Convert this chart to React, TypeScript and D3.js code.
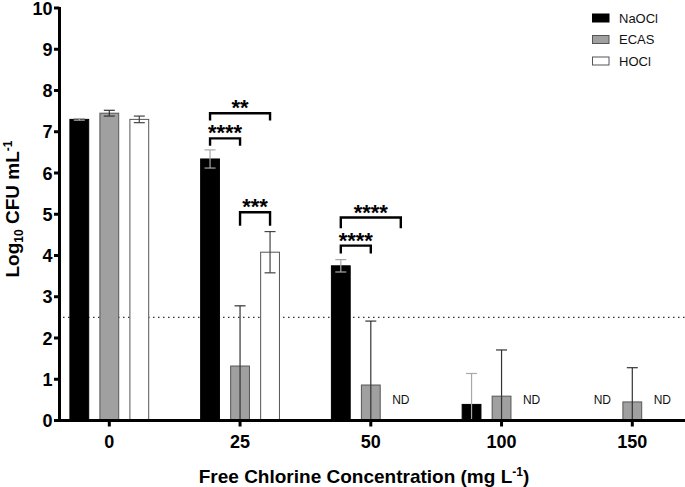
import React from "react";
import * as d3 from "d3";

const categories = ["0", "25", "50", "100", "150"];
const series = ["NaOCl", "ECAS", "HOCl"];
// null = not detected (ND)
const naoclMeans: (number | null)[] = [7.3, 6.34, 3.75, 0.39, null];
const naoclErrors: (number | null)[] = [0.02, 0.22, 0.15, 0.75, null];
const ecasMeans: (number | null)[] = [7.45, 1.32, 0.86, 0.59, 0.45];
const ecasErrors: (number | null)[] = [0.07, 1.46, 1.55, 1.12, 0.83];
const hoclMeans: (number | null)[] = [7.3, 4.08, null, null, null];
const hoclErrors: (number | null)[] = [0.08, 0.5, null, null, null];
const yTicks = [0, 1, 2, 3, 4, 5, 6, 7, 8, 9, 10];
const detectionLimit = 2.5;

// significance brackets: category, from series, to series, bracket level, leg end level, label
const brackets = [
  { cat: "25", from: "NaOCl", to: "ECAS", top: 6.84, bottom: 6.66, label: "****" },
  { cat: "25", from: "NaOCl", to: "HOCl", top: 7.45, bottom: 7.27, label: "**" },
  { cat: "25", from: "ECAS", to: "HOCl", top: 5.05, bottom: 4.72, label: "***" },
  { cat: "50", from: "NaOCl", to: "ECAS", top: 4.24, bottom: 4.05, label: "****" },
  { cat: "50", from: "NaOCl", to: "HOCl", top: 4.92, bottom: 4.66, label: "****" },
];

const W = 685;
const H = 487;
const FONT = "'Liberation Sans', Arial, Helvetica, sans-serif";

const styles: Record<string, { fill: string; stroke: string; err: string }> = {
  NaOCl: { fill: "#000000", stroke: "#000000", err: "#a8a8a8" },
  ECAS: { fill: "#a0a0a0", stroke: "#555555", err: "#333333" },
  HOCl: { fill: "#ffffff", stroke: "#555555", err: "#444444" },
};

export default function App() {
  const y = d3.scaleLinear().domain([0, 10]).range([420.5, 8]);
  const x = d3.scalePoint<string>().domain(categories).range([109.3, 632.3]);
  const sub = d3
    .scaleBand<string>()
    .domain(series)
    .range([-45, 45])
    .paddingInner(0.34)
    .paddingOuter(0.17);
  const bw = sub.bandwidth();
  const means: Record<string, (number | null)[]> = {
    NaOCl: naoclMeans,
    ECAS: ecasMeans,
    HOCl: hoclMeans,
  };
  const errs: Record<string, (number | null)[]> = {
    NaOCl: naoclErrors,
    ECAS: ecasErrors,
    HOCl: hoclErrors,
  };
  const cx = (cat: string, s: string) => (x(cat) as number) + (sub(s) as number) + bw / 2;

  const axisX = 59.5;
  const y0 = y(0);

  return (
    <svg
      width={W}
      height={H}
      style={{ position: "absolute", left: 0, top: 0, background: "#fff" }}
      fontFamily={FONT}
    >
      {/* detection limit */}
      <line
        x1={63}
        x2={W}
        y1={y(detectionLimit)}
        y2={y(detectionLimit)}
        stroke="#333"
        strokeWidth={1.3}
        strokeDasharray="1.5,3.5"
      />
      {/* bars */}
      {series.map((s) =>
        categories.map((c, i) => {
          const v = means[s][i];
          if (v === null) return null;
          const st = styles[s];
          const bx = (x(c) as number) + (sub(s) as number);
          return (
            <rect
              key={s + c}
              x={bx + 0.5}
              y={y(v)}
              width={bw - 1}
              height={y0 - y(v)}
              fill={st.fill}
              stroke={st.stroke}
              strokeWidth={1}
            />
          );
        })
      )}
      {/* error bars */}
      {series.map((s) =>
        categories.map((c, i) => {
          const v = means[s][i];
          const e = errs[s][i];
          if (v === null || e === null) return null;
          const st = styles[s];
          const px = cx(c, s);
          const hi = y(v + e);
          const lo = y(Math.max(0, v - e));
          return (
            <g key={"e" + s + c} stroke={st.err} strokeWidth={1.2}>
              <line x1={px} x2={px} y1={hi} y2={lo} />
              <line x1={px - 5.5} x2={px + 5.5} y1={hi} y2={hi} />
              <line x1={px - 5.5} x2={px + 5.5} y1={lo} y2={lo} />
            </g>
          );
        })
      )}
      {/* ND labels */}
      {series.map((s) =>
        categories.map((c, i) => {
          if (means[s][i] !== null) return null;
          return (
            <text
              key={"nd" + s + c}
              x={cx(c, s)}
              y={y(0.5) + 4.3}
              fontSize={12}
              textAnchor="middle"
              fill="#111"
            >
              ND
            </text>
          );
        })
      )}
      {/* brackets */}
      {brackets.map((b, i) => {
        const xa = cx(b.cat, b.from);
        const xb = cx(b.cat, b.to);
        const yt = y(b.top);
        const yb = y(b.bottom);
        return (
          <g key={"b" + i}>
            <path
              d={`M${xa},${yb}V${yt}H${xb}V${yb}`}
              fill="none"
              stroke="#000"
              strokeWidth={2.4}
            />
            <text
              x={(xa + xb) / 2}
              y={yt - 10.5 + 12.5}
              fontSize={22}
              fontWeight="bold"
              textAnchor="middle"
              fill="#000"
            >
              {b.label}
            </text>
          </g>
        );
      })}
      {/* axes */}
      <line x1={55} x2={W} y1={y0} y2={y0} stroke="#000" strokeWidth={3} />
      <line x1={axisX} x2={axisX} y1={y(10) - 1} y2={y0} stroke="#000" strokeWidth={3} />
      {yTicks.map((t) => (
        <g key={"yt" + t}>
          <line x1={54} x2={axisX} y1={y(t)} y2={y(t)} stroke="#000" strokeWidth={3} />
          <text
            x={52.5}
            y={y(t) + 6.5}
            fontSize={18}
            fontWeight="bold"
            textAnchor="end"
            fill="#000"
          >
            {t}
          </text>
        </g>
      ))}
      {categories.map((c) => (
        <g key={"xt" + c}>
          <line
            x1={x(c) as number}
            x2={x(c) as number}
            y1={y0}
            y2={y0 + 6}
            stroke="#000"
            strokeWidth={3}
          />
          <text
            x={x(c) as number}
            y={448}
            fontSize={18}
            fontWeight="bold"
            textAnchor="middle"
            fill="#000"
          >
            {c}
          </text>
        </g>
      ))}
      {/* axis titles */}
      <text x={364} y={482.5} fontSize={19} fontWeight="bold" textAnchor="middle" fill="#000">
        Free Chlorine Concentration (mg L
        <tspan fontSize={12} dy={-7}>-1</tspan>
        <tspan dy={7}>)</tspan>
      </text>
      <text
        transform={`translate(19,209) rotate(-90)`}
        fontSize={19}
        fontWeight="bold"
        textAnchor="middle"
        fill="#000"
      >
        Log
        <tspan fontSize={12} dy={4}>10</tspan>
        <tspan dy={-4}> CFU mL</tspan>
        <tspan fontSize={12} dy={-7}>-1</tspan>
      </text>
      {/* legend */}
      {series.map((s, i) => {
        const ly = 18 + i * 21.5;
        const st = styles[s];
        return (
          <g key={"lg" + s}>
            <rect
              x={592.5}
              y={ly - 4}
              width={16.5}
              height={8}
              fill={st.fill}
              stroke={st.stroke}
              strokeWidth={1}
            />
            <text x={619} y={ly + 4.6} fontSize={13} fill="#111">
              {s}
            </text>
          </g>
        );
      })}
    </svg>
  );
}
